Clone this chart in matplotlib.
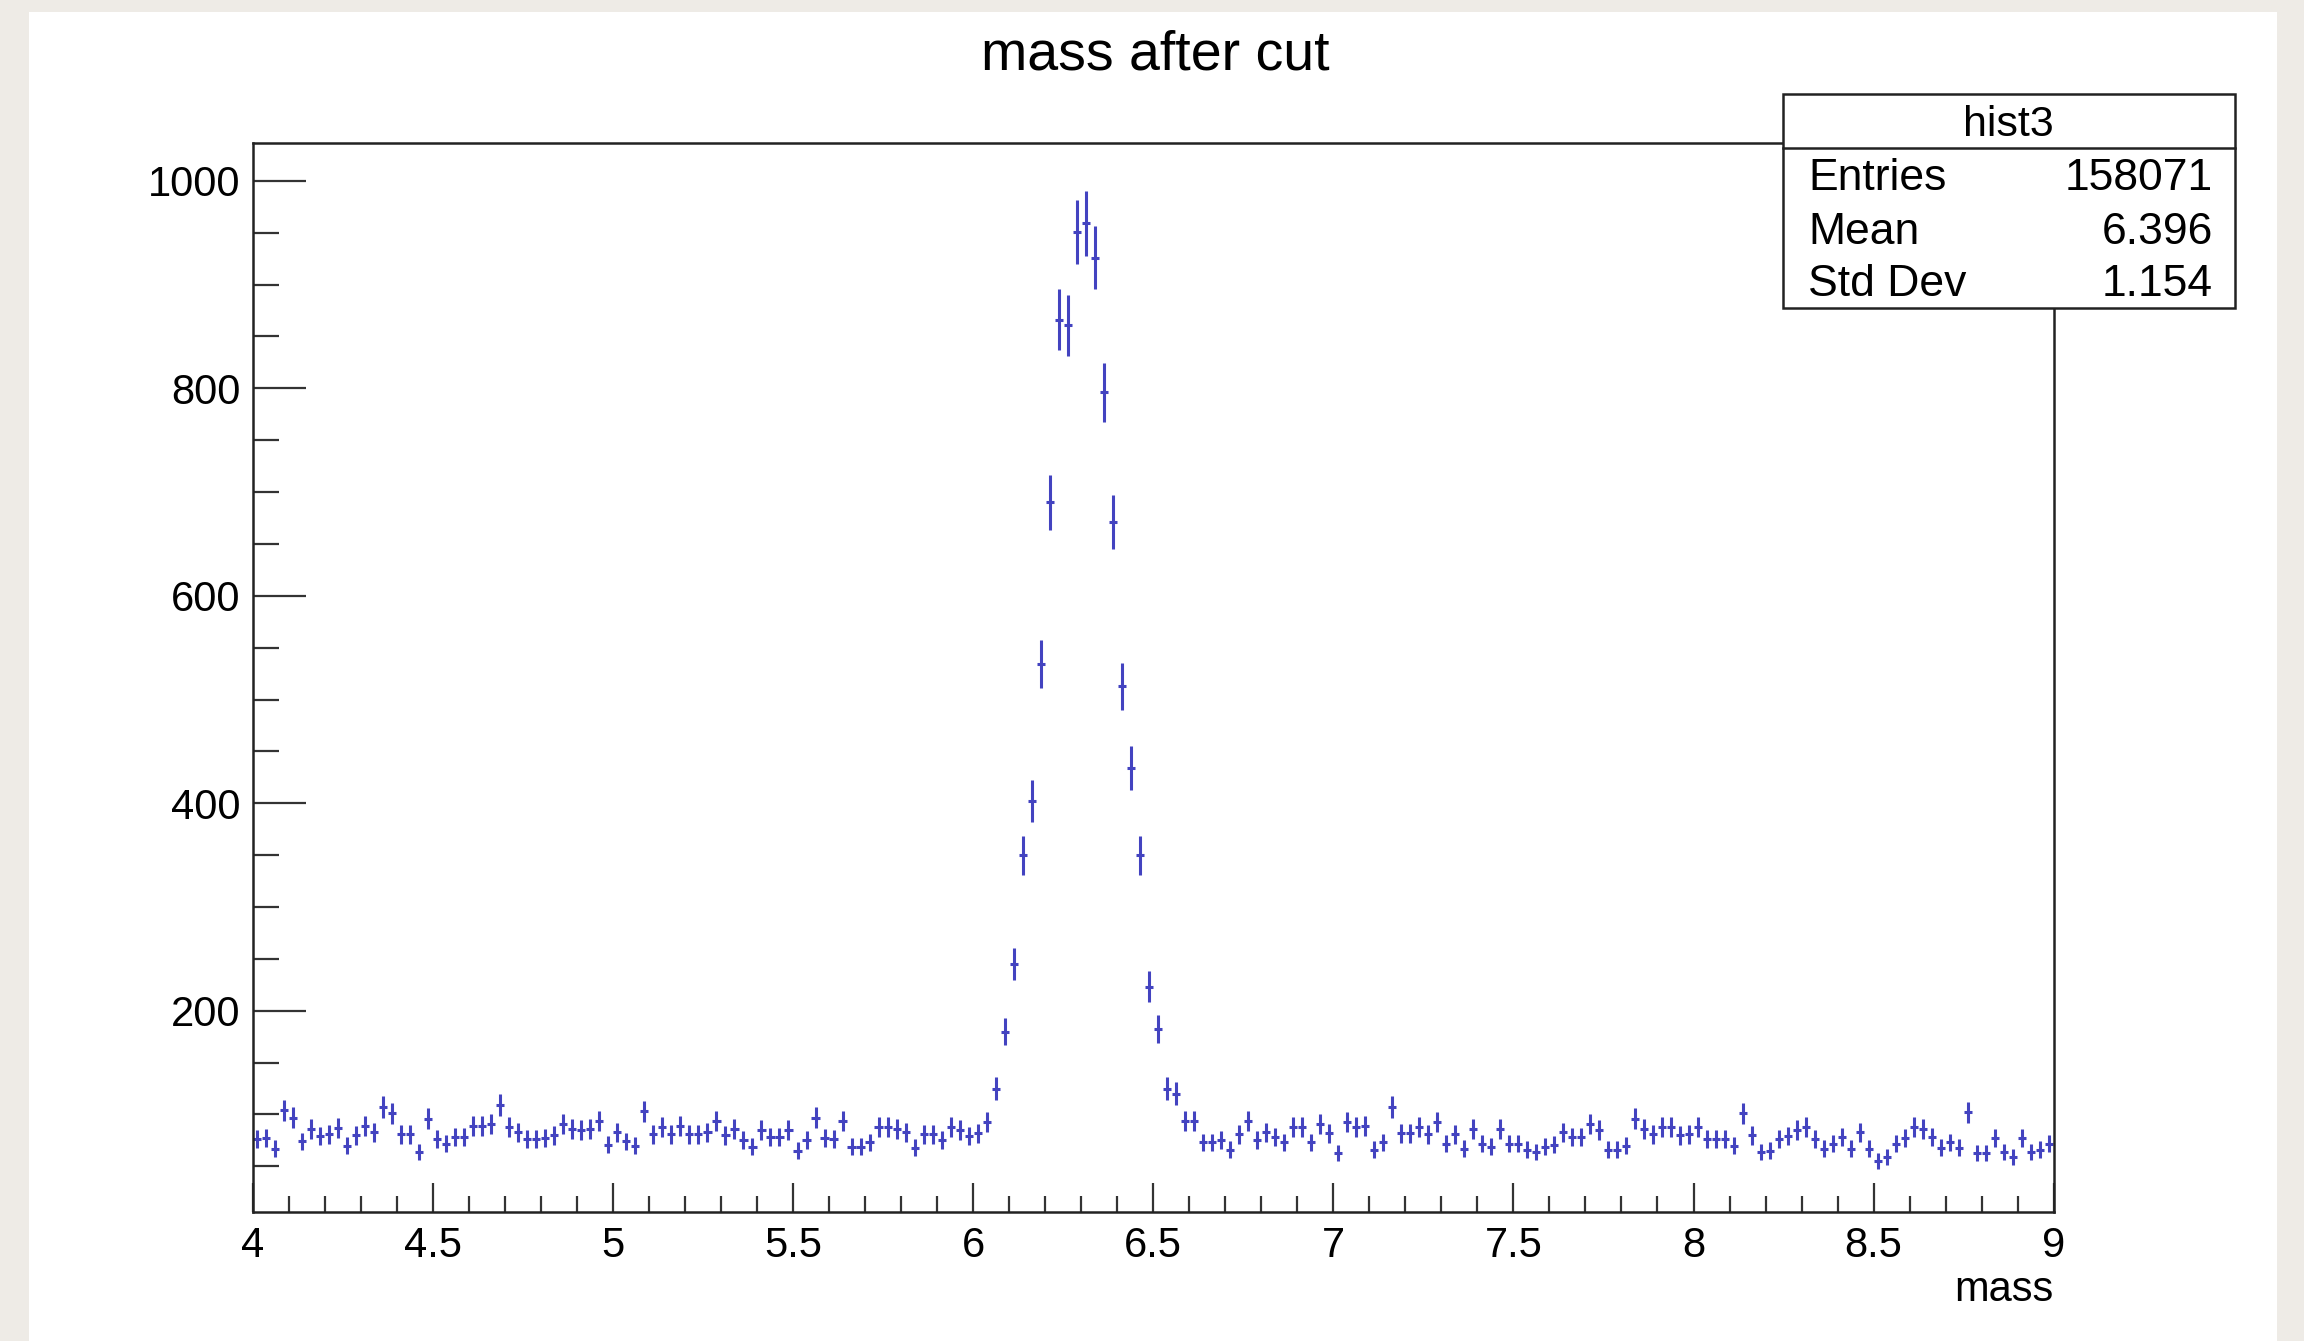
#!/usr/bin/env python
import numpy as np
import matplotlib.pyplot as plt
from matplotlib.patches import Rectangle
from matplotlib.lines import Line2D
from matplotlib.ticker import MultipleLocator

plt.rcParams['font.family'] = ['Liberation Sans', 'DejaVu Sans']

# histogram "hist3": 200 bins from 4 to 9
x_lo, x_hi, n_bins = 4.0, 9.0, 200
counts = [
    76, 77, 67, 104, 97, 74, 86, 79, 81, 87, 70, 80, 89, 83, 107, 101, 81, 81, 64, 96,
    76, 72, 78, 78, 89, 89, 91, 109, 88, 83, 76, 76, 77, 80, 91, 86, 85, 86, 94, 71,
    83, 74, 70, 103, 81, 88, 81, 89, 81, 81, 83, 94, 80, 86, 75, 69, 85, 78, 78, 85,
    65, 75, 97, 77, 76, 94, 69, 69, 73, 88, 88, 86, 83, 68, 81, 81, 75, 88, 85, 79,
    82, 93, 125, 180, 245, 350, 402, 534, 690, 866, 861, 951, 959, 926, 796, 671, 513, 434, 350, 223,
    182, 125, 120, 94, 94, 73, 73, 75, 66, 81, 94, 75, 83, 78, 73, 88, 88, 73, 91, 82,
    63, 93, 88, 89, 66, 73, 107, 82, 82, 88, 81, 93, 72, 81, 67, 86, 72, 69, 86, 72,
    72, 66, 64, 69, 71, 83, 78, 78, 91, 85, 66, 66, 70, 96, 86, 81, 88, 88, 80, 81,
    88, 76, 76, 76, 70, 101, 80, 64, 65, 76, 79, 85, 88, 76, 67, 72, 78, 67, 83, 67,
    55, 59, 72, 77, 88, 86, 78, 68, 73, 68, 102, 63, 63, 77, 64, 59, 77, 64, 66, 72,
]

title = "mass after cut"
xlabel = "mass"
stats_name = "hist3"
stats_rows = [("Entries", "158071"), ("Mean", "6.396"), ("Std Dev", "1.154")]

W, H = 2304, 1341
fig = plt.figure(figsize=(W / 100, H / 100), dpi=100, facecolor='#eeebe6')
fig.add_artist(Rectangle((29 / W, 0), (2277 - 29) / W, 1 - 12 / H,
                         transform=fig.transFigure, facecolor='white',
                         edgecolor='none', zorder=0))

ax = fig.add_axes([252.7 / W, 1 - 1212 / H, (2053.7 - 252.7) / W, (1212 - 142.5) / H])

edges = np.linspace(x_lo, x_hi, n_bins + 1)
centers = 0.5 * (edges[:-1] + edges[1:])
y = np.array(counts, dtype=float)
ax.errorbar(centers, y, yerr=np.sqrt(y), xerr=0.5 * (edges[1] - edges[0]) * 0.9,
            fmt='none', ecolor='#4343c0', elinewidth=2.2, capsize=0)

ax.set_xlim(x_lo, x_hi)
ax.set_ylim(6, 1037)
ax.xaxis.set_major_locator(MultipleLocator(0.5))
ax.xaxis.set_minor_locator(MultipleLocator(0.1))
ax.yaxis.set_major_locator(MultipleLocator(200))
ax.yaxis.set_minor_locator(MultipleLocator(50))
ax.xaxis.set_major_formatter(plt.FuncFormatter(lambda v, p: f"{v:g}"))
ax.set_yticks([200, 400, 600, 800, 1000])

ax.tick_params(axis='x', which='major', direction='in', length=21, width=1.6,
               labelsize=30, pad=10, color='#333333')
ax.tick_params(axis='x', which='minor', direction='in', length=11.5, width=1.6,
               color='#333333')
ax.tick_params(axis='y', which='major', direction='in', length=38, width=1.6,
               labelsize=30, pad=9, color='#333333')
ax.tick_params(axis='y', which='minor', direction='in', length=19, width=1.6,
               color='#333333')
for s in ax.spines.values():
    s.set_linewidth(1.8)
    s.set_color('#222222')

ax.text(1.0, -0.073, xlabel, transform=ax.transAxes, ha='right', va='center',
        fontsize=30)
fig.text(1155 / W, 1 - 55 / H, title, ha='center', va='center', fontsize=40)

# stats box
bx0, bx1 = 1783 / W, 2235 / W
by_top, by_bot = 1 - 94 / H, 1 - 308.3 / H
fig.add_artist(Rectangle((bx0, by_bot), bx1 - bx0, by_top - by_bot,
                         transform=fig.transFigure, facecolor='white',
                         edgecolor='#222222', linewidth=1.8, zorder=5))
fig.add_artist(Line2D([bx0, bx1], [1 - 148.3 / H] * 2, transform=fig.transFigure,
                      color='#222222', linewidth=1.8, zorder=6))
fig.text(2008 / W, 1 - 125 / H, stats_name, ha='center', va='center',
         fontsize=31, zorder=7)
for (lab, val), yy in zip(stats_rows, [178, 232, 285]):
    fig.text(1808 / W, 1 - yy / H, lab, ha='left', va='center', fontsize=32, zorder=7)
    fig.text(2213 / W, 1 - yy / H, val, ha='right', va='center', fontsize=32, zorder=7)

fig.savefig('out.png', dpi=100, facecolor=fig.get_facecolor())
